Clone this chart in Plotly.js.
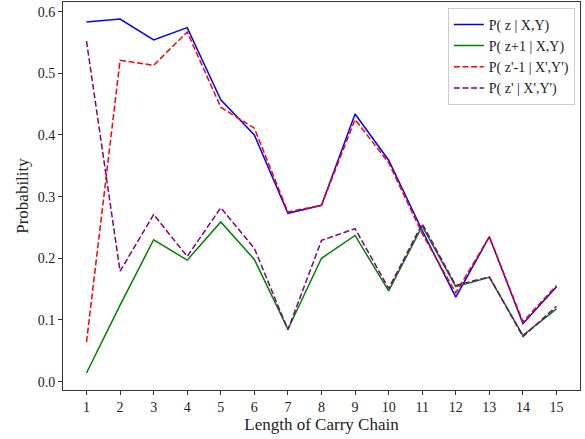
<!DOCTYPE html>
<html>
<head>
<meta charset="utf-8">
<script src="https://cdn.plot.ly/plotly-3.0.1.min.js"></script>
<style>html,body{margin:0;padding:0;background:#fff;}#chart{width:585px;height:439px;}</style>
</head>
<body>
<div id="chart"></div>
<script>
const chainLength = [1,2,3,4,5,6,7,8,9,10,11,12,13,14,15];
const pZ = [0.583,0.588,0.554,0.574,0.457,0.400,0.273,0.286,0.434,0.359,0.245,0.137,0.235,0.094,0.154];
const pZplus1 = [0.014,0.124,0.230,0.197,0.259,0.198,0.085,0.200,0.237,0.147,0.252,0.154,0.169,0.075,0.118];
const pZprimeMinus1 = [0.064,0.521,0.513,0.567,0.445,0.411,0.275,0.286,0.425,0.355,0.240,0.144,0.235,0.097,0.156];
const pZprime = [0.552,0.179,0.271,0.203,0.282,0.216,0.084,0.229,0.248,0.151,0.256,0.156,0.170,0.073,0.122];
const names = ["P( z | X,Y)","P( z+1 | X,Y)","P( z'-1 | X',Y')","P( z' | X',Y')"];
const yTicks = [0.0,0.1,0.2,0.3,0.4,0.5,0.6];

const font = "Liberation Serif, Times New Roman, serif";
const dash = "6px,2.6px";
const traces = [
  {x: chainLength, y: pZ, name: names[0], line: {color: "#0000ff", width: 1.5}},
  {x: chainLength, y: pZplus1, name: names[1], line: {color: "#008000", width: 1.5}},
  {x: chainLength, y: pZprimeMinus1, name: names[2], line: {color: "#ff0000", width: 1.5, dash: dash}},
  {x: chainLength, y: pZprime, name: names[3], line: {color: "#800080", width: 1.5, dash: dash}}
].map(t => Object.assign({type: "scatter", mode: "lines"}, t));

const axisCommon = {
  showline: true, mirror: true, linecolor: "#333", linewidth: 1,
  ticks: "outside", ticklen: 4, tickcolor: "#333", tickwidth: 1,
  showgrid: false, zeroline: false,
  tickfont: {family: font, size: 14, color: "#222"}
};

const layout = {
  width: 585, height: 439,
  margin: {l: 63, r: 5, t: 2, b: 49},
  paper_bgcolor: "#fff", plot_bgcolor: "#fff",
  font: {family: font, color: "#222"},
  xaxis: Object.assign({}, axisCommon, {
    range: [0.3, 15.7], tickvals: chainLength, ticktext: chainLength.map(String),
    title: {text: "Length of Carry Chain", font: {family: font, size: 17, color: "#222"}, standoff: 2}
  }),
  yaxis: Object.assign({}, axisCommon, {
    range: [-0.0136, 0.6156], tickvals: yTicks, ticktext: yTicks.map(v => v.toFixed(1)),
    title: {text: "Probability", font: {family: font, size: 17, color: "#222"}, standoff: 4}
  }),
  legend: {
    x: 0.99, xanchor: "right", y: 0.985, yanchor: "top",
    bgcolor: "rgba(255,255,255,0.8)", bordercolor: "#ccc", borderwidth: 1,
    font: {family: font, size: 14, color: "#222"},
    tracegroupgap: 0
  },
  showlegend: true
};

Plotly.newPlot("chart", traces, layout, {displayModeBar: false, staticPlot: true});
</script>
</body>
</html>
